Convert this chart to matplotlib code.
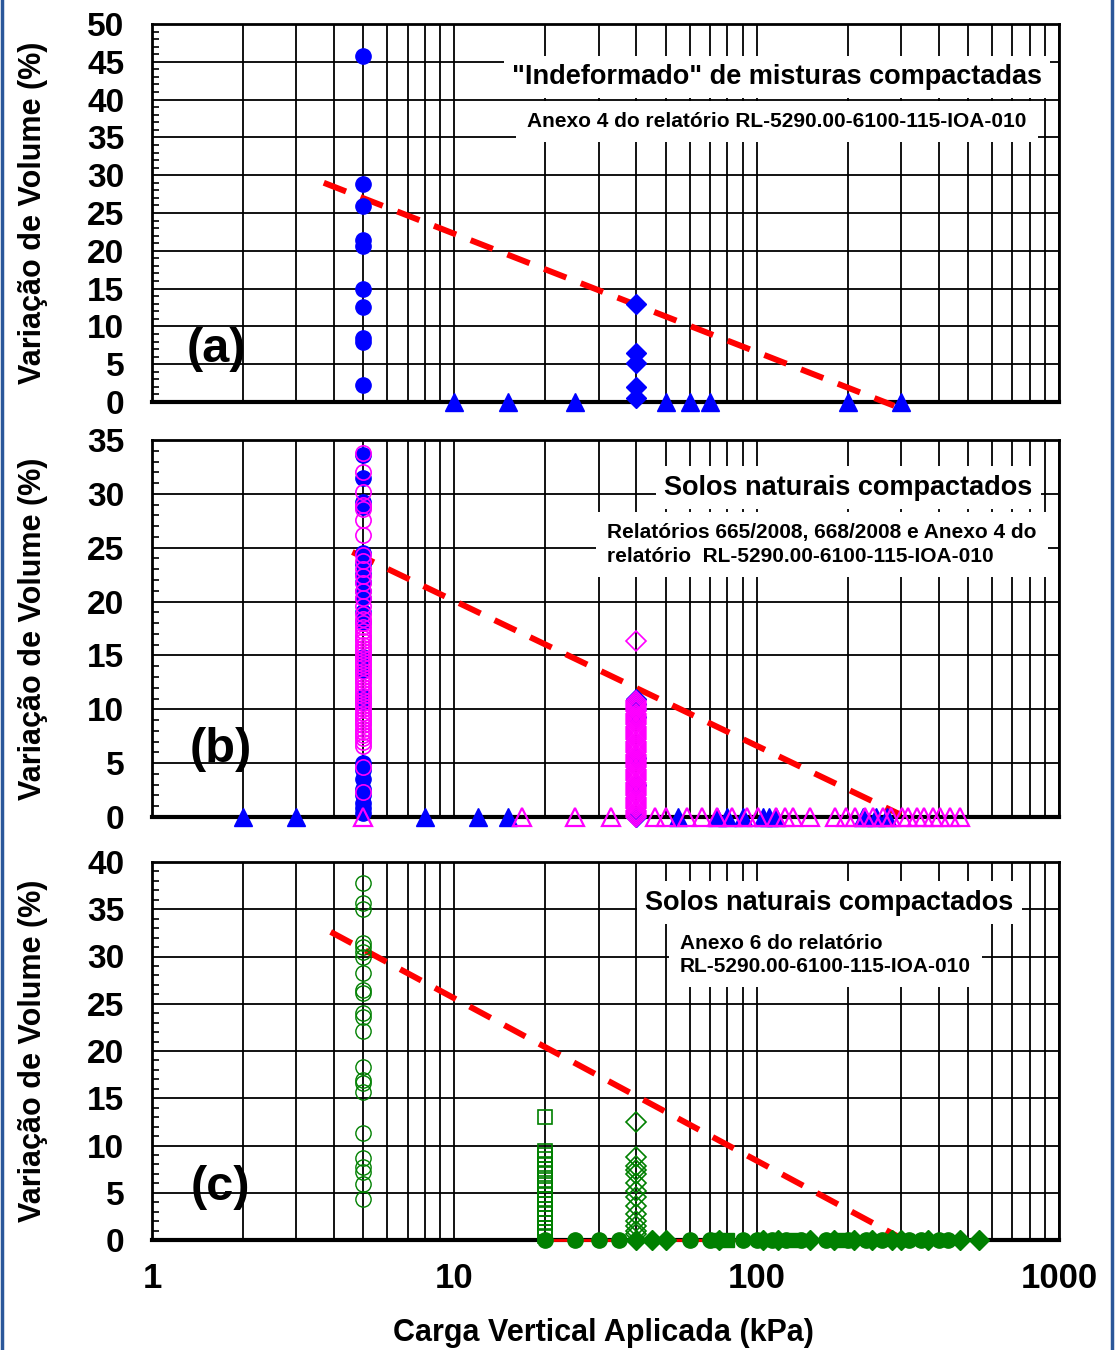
import matplotlib
matplotlib.use("Agg")
import matplotlib.pyplot as plt
from matplotlib.ticker import FixedLocator, MultipleLocator, NullFormatter
from matplotlib.lines import Line2D

plt.rcParams['font.family'] = ['Liberation Sans', 'DejaVu Sans']
plt.rcParams['font.weight'] = 'bold'

BLUE = '#0000FF'
MAG = '#FF00FF'
GREEN = '#008000'
RED = '#FF0000'

# ---- (a) "Indeformado" de misturas compactadas ----
a_circ_x = [5] * 10
a_circ_y = [45.8, 28.8, 25.9, 21.4, 20.6, 14.9, 12.6, 8.4, 7.9, 2.2]
a_diam_x = [40] * 5
a_diam_y = [13.0, 6.5, 5.1, 2.0, 0.5]
a_tri_x = [10, 15, 25, 50, 60, 70, 200, 300]
a_tri_y = [0] * len(a_tri_x)
a_trend_x = [3.7, 285]
a_trend_y = [29.0, -0.5]

# ---- (b) Solos naturais compactados (relatórios 665/668) ----
b_circ_blue_y = [33.6, 31.5, 29.2, 28.8, 24.5, 23.5, 22.6, 21.8, 21.0, 20.3, 19.0,
                 18.1, 14.9, 13.6, 11.1, 10.7, 5.0, 4.4, 3.5, 2.6, 2.0, 1.3, 0.8, 0.4]
b_circ_mag_y = [33.8, 32.0, 30.2, 29.0, 28.6, 27.6, 26.2, 24.3, 23.8, 23.0, 22.4,
                21.7, 21.0, 20.3, 19.6, 18.8, 18.4, 18.0, 17.6, 17.3, 16.9, 16.6,
                16.3, 16.0, 15.7, 15.4, 15.1, 14.8, 14.5, 14.2, 13.9, 13.6, 13.3,
                13.0, 12.7, 12.4, 12.1, 11.8, 11.5, 11.2, 10.9, 10.6, 10.3, 10.0,
                9.7, 9.4, 9.1, 8.8, 8.5, 8.2, 7.9, 7.6, 7.3, 7.0, 6.6, 4.6, 2.3]
b_diam_blue_y = [11.0, 10.5, 10.0, 9.3, 5.5, 3.0, 0.0]
b_diam_mag_y = [16.3, 10.8, 10.6, 10.4, 10.2, 10.0, 9.8, 9.6, 9.4, 9.2, 9.0, 8.8,
                8.6, 8.4, 8.2, 8.0, 7.8, 7.6, 7.4, 7.2, 7.0, 6.8, 6.6, 6.4, 6.2,
                6.0, 5.8, 5.6, 5.4, 5.2, 5.0, 4.8, 4.6, 4.4, 4.2, 4.0, 3.8, 3.6,
                3.4, 3.2, 3.0, 2.8, 2.6, 2.4, 2.2, 2.0, 1.8, 1.6, 1.4, 1.2, 1.0,
                0.8, 0.6, 0.4, 0.2, 0.0]
b_tri_blue_x = [2, 3, 8, 12, 15, 55, 74, 80, 90, 105, 110, 116, 224, 249, 269]
b_tri_mag_x = [5, 16.7, 25, 33, 46, 50, 59, 66, 74, 83, 93, 101, 116, 124, 132,
               150, 181, 198, 211, 228, 242, 261, 279, 302, 316, 338, 359, 382,
               403, 435, 469]
b_trend_x = [4.6, 300]
b_trend_y = [24.6, 0.2]

# ---- (c) Solos naturais compactados (Anexo 6) ----
c_circ_open_y = [37.8, 35.7, 35.0, 31.4, 31.0, 30.5, 29.9, 28.3, 26.5, 26.1, 24.0,
                 23.6, 22.1, 18.3, 16.9, 16.6, 15.7, 11.3, 8.7, 7.7, 7.2, 5.9, 4.3]
c_sq_open_y = [13.0, 9.4, 9.0, 8.6, 8.0, 7.5, 7.0, 6.4, 5.8, 5.3, 4.8, 4.3, 3.8,
               3.3, 2.8, 2.3, 1.8, 1.3, 0.8, 0.4]
c_diam_open_y = [12.5, 8.8, 7.8, 7.4, 7.0, 6.0, 5.2, 4.5, 3.6, 2.8, 2.0, 1.5, 1.0, 0.6]
c_circ_fill_x = [20, 25, 30, 35, 60, 70, 90, 100, 112, 125, 140, 170, 200, 230,
                 260, 320, 350, 400, 430]
c_diam_fill_x = [40, 45, 50, 75, 105, 118, 150, 180, 210, 240, 280, 300, 370, 470, 545]
c_sq_fill_x = [72, 80, 135, 190]
c_base_x = [20, 500]
c_base_y = [0, 0]
c_trend_x = [3.9, 300]
c_trend_y = [32.6, 0.2]

W, H = 1115, 1350
fig = plt.figure(figsize=(W / 100, H / 100), dpi=100)

panels = [
    # (top px, bottom px, ymax, letter, letter pos)
    (24, 402, 50, '(a)', (0.071, 0.138)),
    (440, 817, 35, '(b)', (0.076, 0.178)),
    (862, 1240, 40, '(c)', (0.075, 0.138)),
]

axes = []
for top, bot, ymax, letter, lpos in panels:
    ax = fig.add_axes([152 / W, 1 - bot / H, (1059 - 152) / W, (bot - top) / H])
    ax.set_xscale('log')
    ax.set_xlim(1, 1000)
    ax.set_ylim(0, ymax)
    ax.set_axisbelow(True)
    ax.yaxis.set_major_locator(MultipleLocator(5))
    ax.yaxis.set_minor_locator(MultipleLocator(1))
    ax.grid(True, which='major', color='black', lw=1.3)
    ax.grid(True, which='minor', axis='x', color='black', lw=1.3)
    ax.tick_params(axis='y', which='major', length=0, pad=20, labelsize=24)
    ax.tick_params(axis='y', which='minor', direction='in', length=5, width=1.2)
    ax.tick_params(axis='x', which='both', length=0)
    for lab in ax.get_yticklabels():
        lab.set_fontweight('bold')
    for s in ['top', 'right', 'left']:
        ax.spines[s].set_linewidth(2)
    ax.spines['bottom'].set_linewidth(3)
    ax.text(lpos[0], lpos[1], letter, transform=ax.transAxes, fontsize=35,
            fontweight='bold', ha='center', va='center', zorder=6)
    fig.text(33 / W, 1 - (top + bot) / 2 / H, 'Variação de Volume (%)', rotation=90,
             ha='center', va='center', fontsize=22, fontweight='bold')
    axes.append(ax)

ax_a, ax_b, ax_c = axes
for ax in (ax_a, ax_b):
    ax.xaxis.set_major_formatter(NullFormatter())
    ax.xaxis.set_minor_formatter(NullFormatter())
ax_c.xaxis.set_major_locator(FixedLocator([1, 10, 100, 1000]))
ax_c.set_xticklabels(['1', '10', '100', '1000'], fontsize=25, fontweight='bold')
ax_c.xaxis.set_minor_formatter(NullFormatter())
ax_c.tick_params(axis='x', which='major', pad=16)
fig.text(603 / W, 1 - 1333 / H, 'Carga Vertical Aplicada (kPa)', ha='center',
         va='center', fontsize=22, fontweight='bold')

dash = (0, (4, 2.6))
box = dict(facecolor='white', edgecolor='none', pad=6)
sub_box = dict(facecolor='white', edgecolor='none', pad=8)

# (a)
ax_a.plot(a_trend_x, a_trend_y, color=RED, lw=4.3, ls=dash, zorder=4, clip_on=False)
ax_a.plot(a_circ_x, a_circ_y, 'o', color=BLUE, ms=11, zorder=5, clip_on=False)
ax_a.plot(a_diam_x, a_diam_y, 'D', color=BLUE, ms=10, zorder=5, clip_on=False)
ax_a.plot(a_tri_x, a_tri_y, '^', color=BLUE, ms=13, zorder=5, clip_on=False)
ax_a.text(0.689, 0.860, '"Indeformado" de misturas compactadas', transform=ax_a.transAxes,
          ha='center', va='center', fontsize=19.5, fontweight='bold', bbox=box, zorder=3)
ax_a.text(0.689, 0.741, 'Anexo 4 do relatório RL-5290.00-6100-115-IOA-010',
          transform=ax_a.transAxes, ha='center', va='center', fontsize=15,
          fontweight='bold', bbox=sub_box, zorder=3)

# (b)
ax_b.plot(b_trend_x, b_trend_y, color=RED, lw=4.3, ls=dash, zorder=4, clip_on=False)
ax_b.plot([5] * len(b_circ_blue_y), b_circ_blue_y, 'o', color=BLUE, ms=11, zorder=5,
          clip_on=False)
ax_b.plot([5] * len(b_circ_mag_y), b_circ_mag_y, 'o', mfc='none', mec=MAG, mew=1.2,
          ms=11, zorder=5, clip_on=False)
ax_b.plot([40] * len(b_diam_blue_y), b_diam_blue_y, 'D', color=BLUE, ms=10, zorder=5,
          clip_on=False)
ax_b.plot([40] * len(b_diam_mag_y), b_diam_mag_y, 'D', mfc='none', mec=MAG, mew=1.2,
          ms=10, zorder=5, clip_on=False)
ax_b.plot(b_tri_blue_x, [0] * len(b_tri_blue_x), '^', color=BLUE, ms=13, zorder=5,
          clip_on=False)
ax_b.plot(b_tri_mag_x, [0] * len(b_tri_mag_x), '^', mfc='none', mec=MAG, mew=1.6,
          ms=13, zorder=5, clip_on=False)
ax_b.text(0.768, 0.873, 'Solos naturais compactados', transform=ax_b.transAxes,
          ha='center', va='center', fontsize=19.5, fontweight='bold', bbox=box, zorder=3)
ax_b.text(0.502, 0.723,
          'Relatórios 665/2008, 668/2008 e Anexo 4 do\nrelatório  RL-5290.00-6100-115-IOA-010',
          transform=ax_b.transAxes, ha='left', va='center', fontsize=15,
          fontweight='bold', linespacing=1.3, bbox=sub_box, zorder=3)

# (c)
ax_c.plot(c_base_x, c_base_y, color=RED, lw=2, zorder=4, clip_on=False)
ax_c.plot(c_trend_x, c_trend_y, color=RED, lw=4.3, ls=dash, zorder=4, clip_on=False)
ax_c.plot([5] * len(c_circ_open_y), c_circ_open_y, 'o', mfc='none', mec=GREEN, mew=1,
          ms=11, zorder=5, clip_on=False)
ax_c.plot([20] * len(c_sq_open_y), c_sq_open_y, 's', mfc='none', mec=GREEN, mew=1.2,
          ms=10, zorder=5, clip_on=False)
ax_c.plot([40] * len(c_diam_open_y), c_diam_open_y, 'D', mfc='none', mec=GREEN, mew=1.2,
          ms=10, zorder=5, clip_on=False)
ax_c.plot(c_circ_fill_x, [0] * len(c_circ_fill_x), 'o', color=GREEN, ms=11, zorder=5,
          clip_on=False)
ax_c.plot(c_sq_fill_x, [0] * len(c_sq_fill_x), 's', color=GREEN, ms=10, zorder=5,
          clip_on=False)
ax_c.plot(c_diam_fill_x, [0] * len(c_diam_fill_x), 'D', color=GREEN, ms=10, zorder=5,
          clip_on=False)
ax_c.text(0.747, 0.892, 'Solos naturais compactados', transform=ax_c.transAxes,
          ha='center', va='center', fontsize=19.5, fontweight='bold', bbox=box, zorder=3)
ax_c.text(0.582, 0.754, 'Anexo 6 do relatório\nRL-5290.00-6100-115-IOA-010',
          transform=ax_c.transAxes, ha='left', va='center', fontsize=15,
          fontweight='bold', linespacing=1.3, bbox=sub_box, zorder=3)

# blue frame on the sides of the figure
fig.add_artist(Line2D([2 / W, 2 / W], [0, 1], color='#2B579A', lw=2.5,
                      transform=fig.transFigure))
fig.add_artist(Line2D([1112 / W, 1112 / W], [0, 1], color='#2B579A', lw=2.5,
                      transform=fig.transFigure))

fig.savefig('out.png', dpi=100)
